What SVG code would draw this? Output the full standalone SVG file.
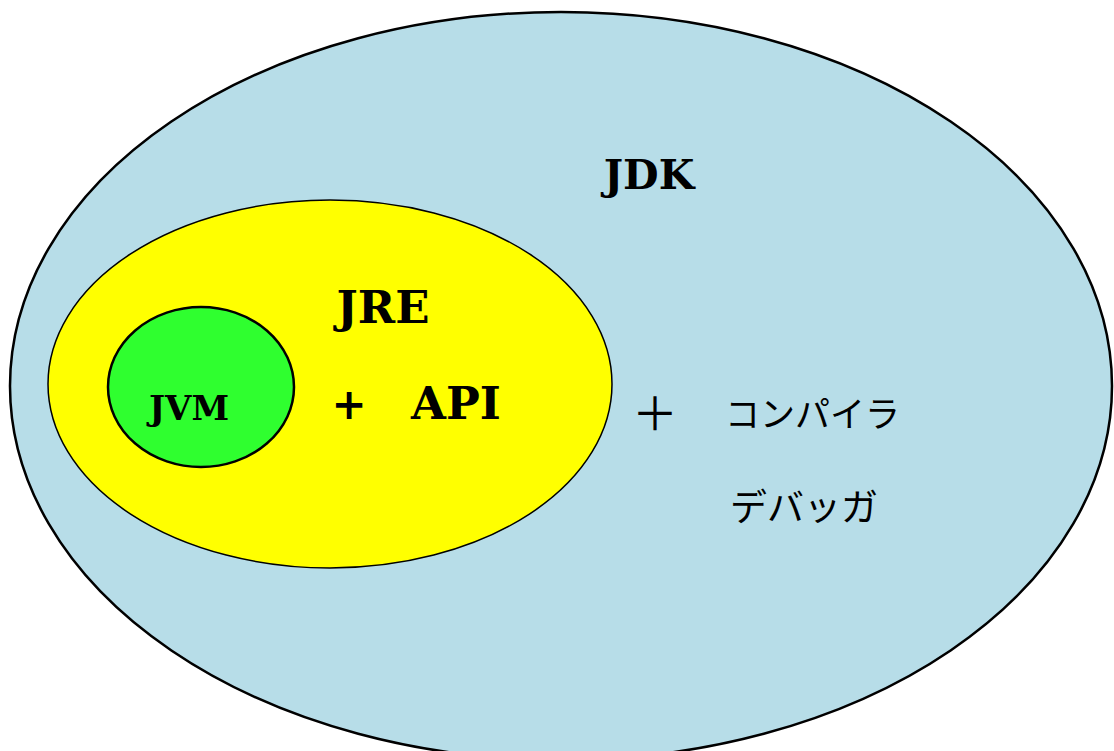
<svg xmlns="http://www.w3.org/2000/svg" width="1114" height="751" viewBox="0 0 1114 751">
<style>
.lat{font-family:"DejaVu Serif","Liberation Serif",serif;font-weight:bold;fill:#000}
.jp{font-family:"Noto Sans CJK JP","Noto Sans CJK SC",sans-serif;fill:#000}
</style>
<rect width="1114" height="751" fill="#fff"/>
<g id="jdk">
<ellipse cx="561" cy="386" rx="551" ry="374" fill="#B7DDE8" stroke="#000" stroke-width="2.5"/>
<text class="lat" x="649" y="189" font-size="41" text-anchor="middle">JDK</text>
<text class="jp" x="655" y="430" font-size="46" text-anchor="middle">＋</text>
<text class="jp" x="725" y="427" font-size="35">コンパイラ</text>
<text class="jp" x="730" y="521" font-size="37">デバッガ</text>
</g>
<g id="jre">
<ellipse cx="330" cy="384" rx="282" ry="184" fill="#FFFF00" stroke="#000" stroke-width="1.5"/>
<text class="lat" x="383" y="323" font-size="45" text-anchor="middle">JRE</text>
<text class="lat" x="349" y="419" font-size="42" text-anchor="middle">+</text>
<text class="lat" x="456" y="419" font-size="45" text-anchor="middle">API</text>
</g>
<g id="jvm">
<ellipse cx="201" cy="387" rx="93" ry="80" fill="#2FFF2F" stroke="#000" stroke-width="2.5"/>
<text class="lat" x="189" y="420" font-size="34" text-anchor="middle">JVM</text>
</g>
<g id="connectors"></g>
</svg>
